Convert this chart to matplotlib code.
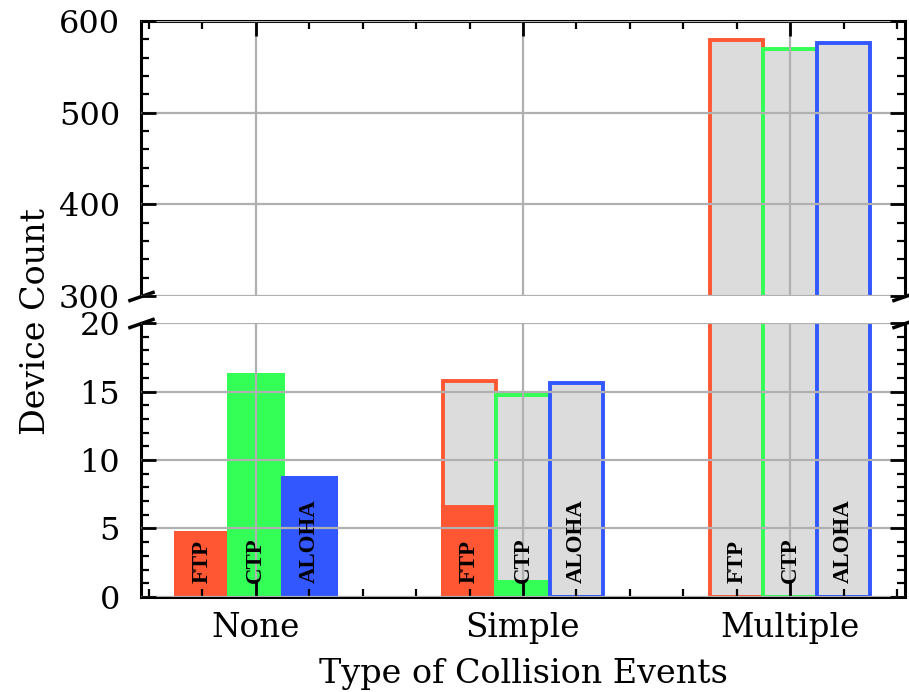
import matplotlib
matplotlib.use('Agg')
import matplotlib.pyplot as plt
import numpy as np
from matplotlib.ticker import MultipleLocator

# ---- data ----
categories = ['None', 'Simple', 'Multiple']
protocols = ['FTP', 'CTP', 'ALOHA']
ftp_total = [4.7, 15.8, 579]
ctp_total = [16.2, 14.75, 569]
aloha_total = [8.7, 15.6, 576]
ftp_part = [4.7, 6.6, 0]
ctp_part = [16.2, 1.1, 0]
aloha_part = [8.7, 0, 0]

colors = ['#FF5733', '#33FF57', '#3357FF']
gray = '#DCDCDC'

totals = [ftp_total, ctp_total, aloha_total]
parts = [ftp_part, ctp_part, aloha_part]

plt.rcParams['font.family'] = ['DejaVu Serif']
plt.rcParams['xtick.direction'] = 'in'
plt.rcParams['ytick.direction'] = 'in'

fig = plt.figure(figsize=(9.09, 6.92), dpi=100)
ax_top = fig.add_axes([0.1551, 0.5723, 0.8405, 0.3974])
ax_bot = fig.add_axes([0.1551, 0.1373, 0.8405, 0.3959])

x = np.arange(len(categories))
w = 0.2
lw = 2.8

for ax in (ax_top, ax_bot):
    for i, p in enumerate(protocols):
        xs = x + (i - 1) * w
        ax.bar(xs, totals[i], w, color=gray, edgecolor=colors[i], linewidth=lw, zorder=1)
        ax.bar(xs, parts[i], w, color=colors[i], edgecolor=colors[i], linewidth=lw, zorder=1)
    ax.grid(True, color='#b0b0b0', linewidth=1.6)
    ax.set_axisbelow(False)
    for s in ax.spines.values():
        s.set_linewidth(2.2)

ax_top.set_ylim(300, 600)
ax_bot.set_ylim(0, 20)
ax_top.set_xlim(-0.43, 2.43)
ax_bot.set_xlim(-0.43, 2.43)

ax_top.spines['bottom'].set_visible(False)
ax_bot.spines['top'].set_visible(False)

ax_top.yaxis.set_major_locator(MultipleLocator(100))
ax_top.yaxis.set_minor_locator(MultipleLocator(20))
ax_bot.yaxis.set_major_locator(MultipleLocator(5))
ax_bot.yaxis.set_minor_locator(MultipleLocator(1))
for ax in (ax_top, ax_bot):
    ax.set_xticks(x)
    ax.xaxis.set_minor_locator(MultipleLocator(0.2))
    ax.tick_params(which='major', length=11, width=2.0, labelsize=23, right=True)
    ax.tick_params(which='minor', length=6, width=1.6, right=True)
    ax.tick_params(axis='y', which='major', pad=15)

ax_top.tick_params(axis='x', which='both', top=True, bottom=False, labelbottom=False)
ax_bot.tick_params(axis='x', which='both', top=False, bottom=True)
ax_bot.set_xticklabels(categories)
ax_bot.tick_params(axis='x', which='major', labelsize=23.5, pad=11)

# labels inside bars
for j in range(len(categories)):
    for i, p in enumerate(protocols):
        ax_bot.text(x[j] + (i - 1) * w, 1.0, p, rotation=90, ha='center', va='bottom',
                    fontsize=16.5, fontweight='bold', family=['Liberation Serif'], zorder=5)

# break marks
d = 0.35
kw = dict(marker=[(-1, -d), (1, d)], markersize=19, linestyle='none', color='k',
          mec='k', mew=2.5, clip_on=False)
ax_top.plot([0, 1], [0, 0], transform=ax_top.transAxes, **kw)
ax_bot.plot([0, 1], [1, 1], transform=ax_bot.transAxes, **kw)

ax_bot.set_xlabel('Type of Collision Events', fontsize=24, labelpad=10)
fig.text(0.040, 0.536, 'Device Count', rotation=90, ha='center', va='center', fontsize=24)

fig.savefig('out.png', dpi=100)
